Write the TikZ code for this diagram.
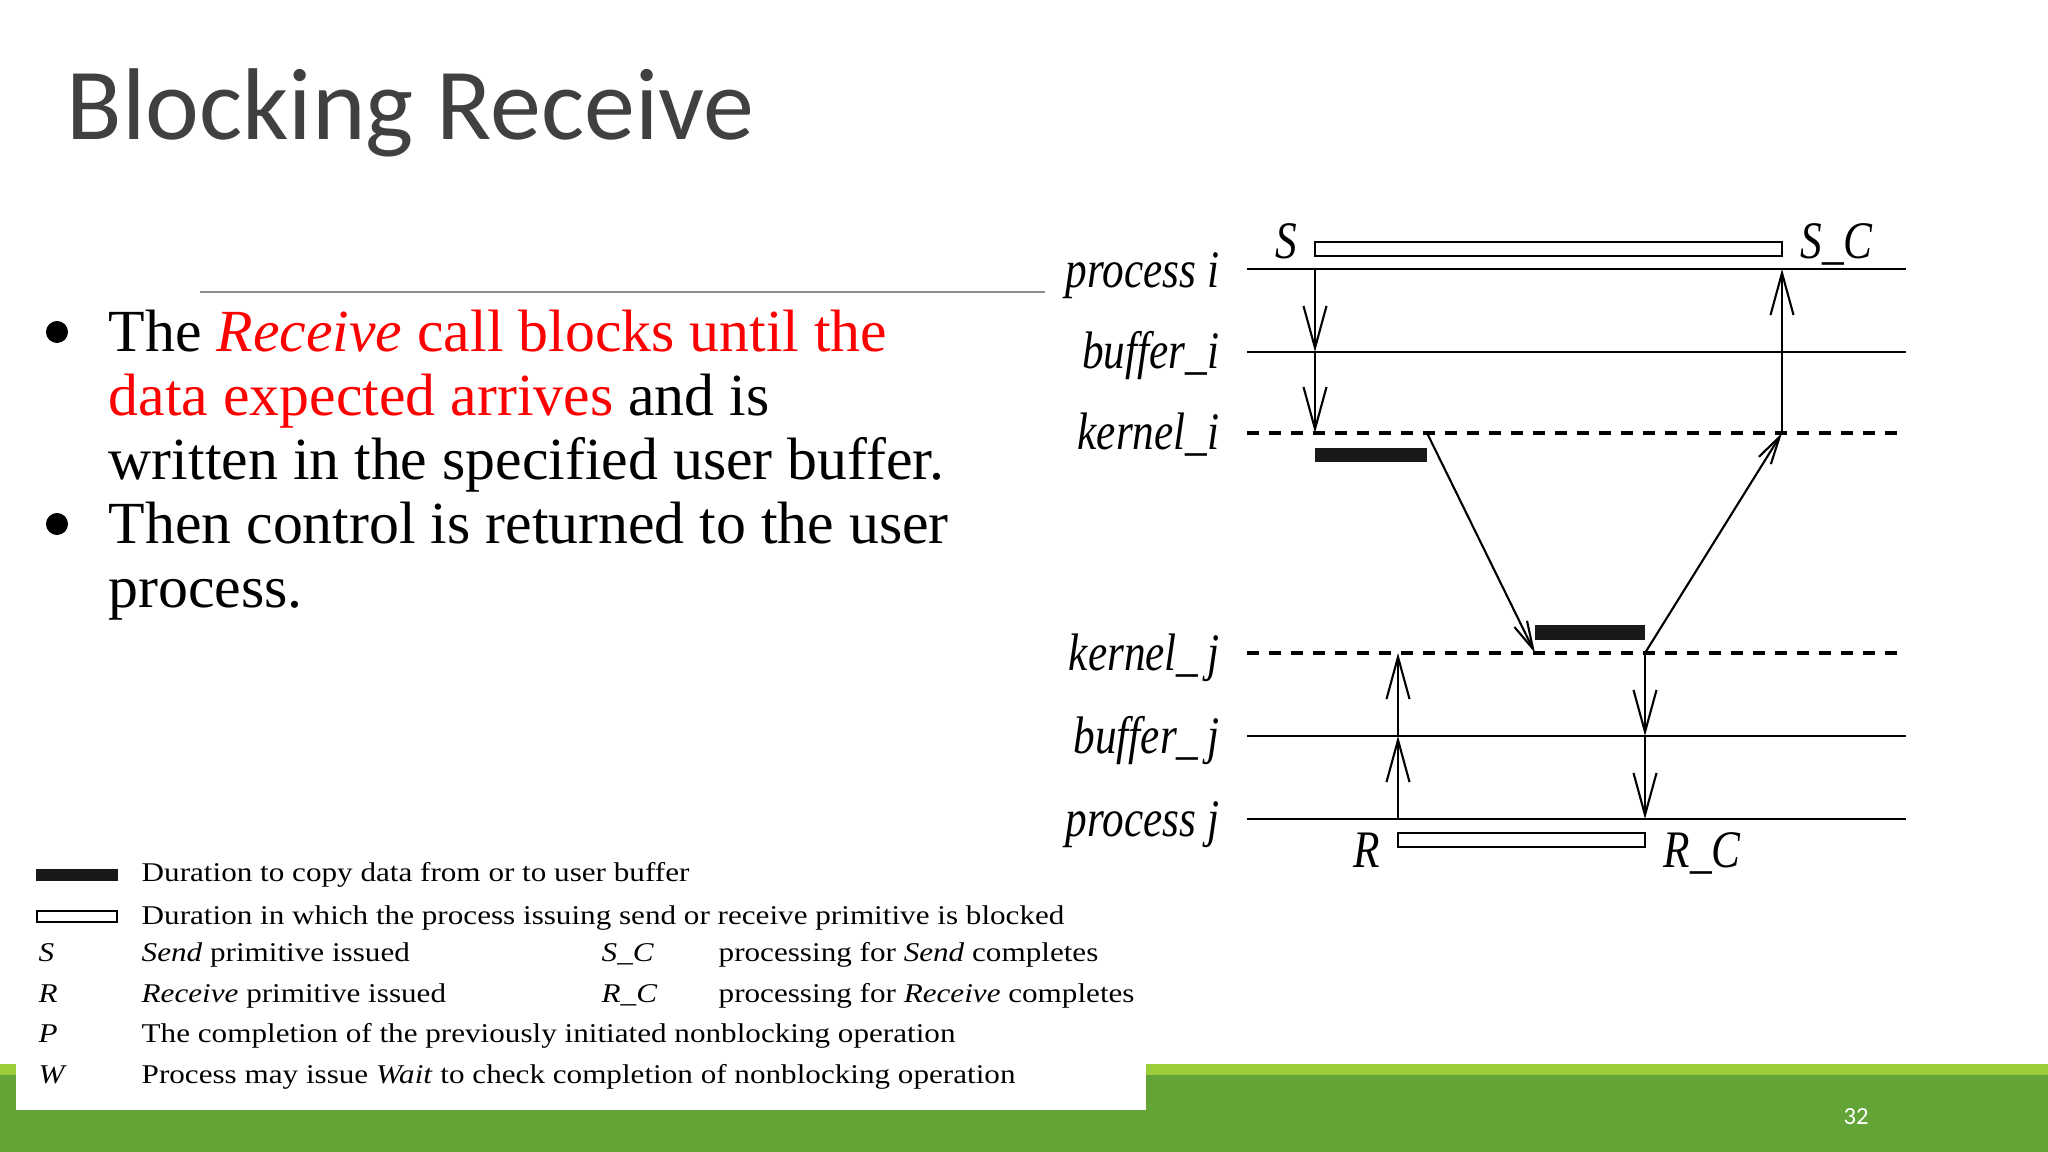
\documentclass[tikz,border=0pt]{standalone}
\usepackage{fontspec}
\setmainfont{Liberation Serif}
\newfontfamily\titlefont{Carlito}
\newfontfamily\figfont[FakeStretch=0.82]{Liberation Serif}
\newfontfamily\legfont[FakeStretch=1.15]{Liberation Serif}
\usepackage{xcolor}
\usepackage{tikz}
\usetikzlibrary{arrows.meta}
\definecolor{titlegray}{HTML}{404040}
\definecolor{bandlight}{RGB}{155,204,58}
\definecolor{banddark}{RGB}{99,164,54}
\definecolor{rulegray}{HTML}{8C8C8C}

\begin{document}
\begin{tikzpicture}[x=0.01cm, y=-0.01cm]
	% Styles
	\tikzstyle{lane} = [line width=0.85pt]
	\tikzstyle{klane} = [line width=1pt, dash pattern=on 0.12cm off 0.1cm]
	\tikzstyle{msg} = [line width=0.6pt, -{Straight Barb[length=4.2mm, width=2.3mm]}]
	\tikzstyle{xfer} = [line width=0.6pt, -{Straight Barb[length=2.8mm, width=1.4mm]}]
	\tikzstyle{blockbar} = [draw, line width=0.7pt, fill=white]
	\tikzstyle{copybar} = [fill=black!90]
	\tikzstyle{lbl} = [inner sep=0pt, font=\figfont\itshape\fontsize{15}{15}\selectfont]
	\tikzstyle{leg} = [inner sep=0pt, anchor=base west, font=\legfont\fontsize{7.7}{9}\selectfont]
	\tikzstyle{bullettext} = [inner sep=0pt, anchor=north west, align=left, font=\fontsize{17}{18.2}\selectfont]
	\tikzstyle{dot} = [circle, fill=black, inner sep=0pt, minimum size=0.22cm]

	% Page
	\useasboundingbox (0,0) rectangle (2048,1152);
	\fill[white] (0,0) rectangle (2048,1152);
	\fill[bandlight] (0,1064) rectangle (2048,1075);
	\fill[banddark] (0,1075) rectangle (2048,1152);
	\fill[white] (16,850) rectangle (1146,1110);
	\node (pagenum) [text=white, inner sep=0pt, font=\titlefont\fontsize{7}{8}\selectfont] at (1856,1117) {32};

	% Title and bullets
	\node (title) [anchor=base west, inner sep=0pt, text=titlegray, font=\titlefont\fontsize{29}{32}\selectfont] at (66,140) {Blocking Receive};
	\draw [rulegray, line width=0.55pt] (200,292) -- (1045,292);
	\node (dot1) [dot] at (57,332) {};
	\node (dot2) [dot] at (57,524) {};
	\node (bul1) [bullettext] at (108,309) {The \textcolor{red}{\textit{Receive} call blocks until the}\\ \textcolor{red}{data expected arrives} and is\\ written in the specified user buffer.};
	\node (bul2) [bullettext] at (108,501) {Then control is returned to the user\\ process.};

	% Time lines
	\foreach \y in {269, 352, 736, 819}
		\draw [lane] (1247,\y) -- (1906,\y);
	\foreach \y in {433, 653}
		\draw [klane] (1247,\y) -- (1898,\y);

	\node (lpi) [lbl, anchor=base east] at (1220,288) {process i};
	\node (lbi) [lbl, anchor=base east] at (1220,369) {buffer\_i};
	\node (lki) [lbl, anchor=base east] at (1220,450) {kernel\_i};
	\node (lkj) [lbl, anchor=base east] at (1220,670) {kernel\_\,j};
	\node (lbj) [lbl, anchor=base east] at (1220,753) {buffer\_\,j};
	\node (lpj) [lbl, anchor=base east] at (1220,836) {process j};

	% Bars
	\draw [blockbar] (1315,242) rectangle (1782,256);
	\draw [blockbar] (1398,833) rectangle (1645,847);
	\fill [copybar] (1315,448) rectangle (1427,462);
	\fill [copybar] (1535,625) rectangle (1645,640);

	\node (lS) [lbl, anchor=base east] at (1298,259) {S};
	\node (lSC) [lbl, anchor=base west] at (1800,259) {S\_C};
	\node (lR) [lbl, anchor=base east] at (1381,867) {R};
	\node (lRC) [lbl, anchor=base west] at (1663,867) {R\_C};

	% Points on the lines
	\coordinate (S-pi) at (1315,269);
	\coordinate (S-bi) at (1315,352);
	\coordinate (S-ki) at (1315,433);
	\coordinate (SC-pi) at (1782,269);
	\coordinate (SC-ki) at (1782,433);
	\coordinate (c1-ki) at (1427,433);
	\coordinate (c2-kj) at (1535,653);
	\coordinate (R-kj) at (1398,653);
	\coordinate (R-bj) at (1398,736);
	\coordinate (R-pj) at (1398,819);
	\coordinate (RC-kj) at (1645,653);
	\coordinate (RC-bj) at (1645,736);
	\coordinate (RC-pj) at (1645,819);

	% Connections
	\draw [msg] (S-pi) -- (S-bi);
	\draw [msg] (S-bi) -- (S-ki);
	\draw [xfer] (c1-ki) -- (c2-kj);
	\draw [xfer] (RC-kj) -- (SC-ki);
	\draw [msg] (SC-ki) -- (SC-pi);
	\draw [msg] (R-pj) -- (R-bj);
	\draw [msg] (R-bj) -- (R-kj);
	\draw [msg] (RC-kj) -- (RC-bj);
	\draw [msg] (RC-bj) -- (RC-pj);

	% Legend
	\fill [copybar] (36,869) rectangle (118,881);
	\draw [blockbar] (37,911) rectangle (117,922);
	\node (leg1) [leg] at (141,881) {Duration to copy data from or to user buffer};
	\node (leg2) [leg] at (141,924) {Duration in which the process issuing send or receive primitive is blocked};
	\node (legS) [leg] at (38,961) {\itshape S};
	\node (legSt) [leg] at (141,961) {\textit{Send} primitive issued};
	\node (legSC) [leg] at (601,961) {\itshape S\_C};
	\node (legSCt) [leg] at (718,961) {processing for \textit{Send} completes};
	\node (legR) [leg] at (38,1002) {\itshape R};
	\node (legRt) [leg] at (141,1002) {\textit{Receive} primitive issued};
	\node (legRC) [leg] at (601,1002) {\itshape R\_C};
	\node (legRCt) [leg] at (718,1002) {processing for \textit{Receive} completes};
	\node (legP) [leg] at (38,1042) {\itshape P};
	\node (legPt) [leg] at (141,1042) {The completion of the previously initiated nonblocking operation};
	\node (legW) [leg] at (38,1083) {\itshape W};
	\node (legWt) [leg] at (141,1083) {Process may issue \textit{Wait} to check completion of nonblocking operation};
\end{tikzpicture}
\end{document}
